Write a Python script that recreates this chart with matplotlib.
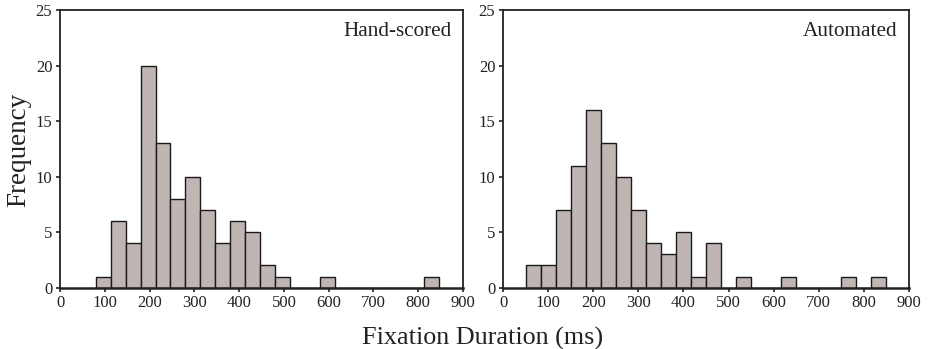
import numpy as np
import matplotlib
matplotlib.use("Agg")
import matplotlib.pyplot as plt

plt.rcParams['font.family'] = ['Liberation Serif', 'DejaVu Serif']

bin_width = 100.0 / 3.0
# Hand-scored histogram: bins start at 80 ms
hand_start = 80.0
hand_counts = [1, 6, 4, 20, 13, 8, 10, 7, 4, 6, 5, 2, 1, 0, 0, 1,
               0, 0, 0, 0, 0, 0, 1]
# Automated histogram: bins start at 50 ms
auto_start = 50.0
auto_counts = [2, 2, 7, 11, 16, 13, 10, 7, 4, 3, 5, 1, 4, 0, 1, 0,
               0, 1, 0, 0, 0, 1, 0, 1]

panel_titles = ["Hand-scored", "Automated"]
x_ticks = [0, 100, 200, 300, 400, 500, 600, 700, 800, 900]
y_ticks = [0, 5, 10, 15, 20, 25]

fig = plt.figure(figsize=(9.3, 3.49), dpi=100)
ax1 = fig.add_axes([60/930, 1-287.7/349, (463-60)/930, (287.7-10)/349])
ax2 = fig.add_axes([503/930, 1-287.7/349, (909-503)/930, (287.7-10)/349])

bar_color = '#bfb6b4'
for ax, start, counts, title in [(ax1, hand_start, hand_counts, panel_titles[0]),
                                  (ax2, auto_start, auto_counts, panel_titles[1])]:
    lefts = start + bin_width * np.arange(len(counts))
    ax.bar(lefts, counts, width=bin_width, align='edge', color=bar_color,
           edgecolor='#1a1a1a', linewidth=1.0, zorder=2)
    ax.set_xlim(0, 900)
    ax.set_ylim(0, 25)
    ax.set_xticks(x_ticks)
    ax.set_yticks(y_ticks)
    ax.tick_params(direction='out', length=3, width=1.2, labelsize=12,
                   colors='#222222', pad=2.5)
    for s in ax.spines.values():
        s.set_linewidth(1.3)
        s.set_color('#222222')
    ax.spines['bottom'].set_linewidth(1.8)
    ax.spines['bottom'].set_zorder(3)
    ax.text(0.972, 0.923, title, transform=ax.transAxes, ha='right', va='center',
            fontsize=15.3, color='#222222')

fig.text(0.020, 1-150/349, 'Frequency', rotation=90, ha='center', va='center',
         fontsize=19.5, color='#222222')
fig.text(483/930, 1-345/349, 'Fixation Duration (ms)', ha='center', va='baseline',
         fontsize=18.8, color='#222222')

fig.savefig('out.png', dpi=100)
